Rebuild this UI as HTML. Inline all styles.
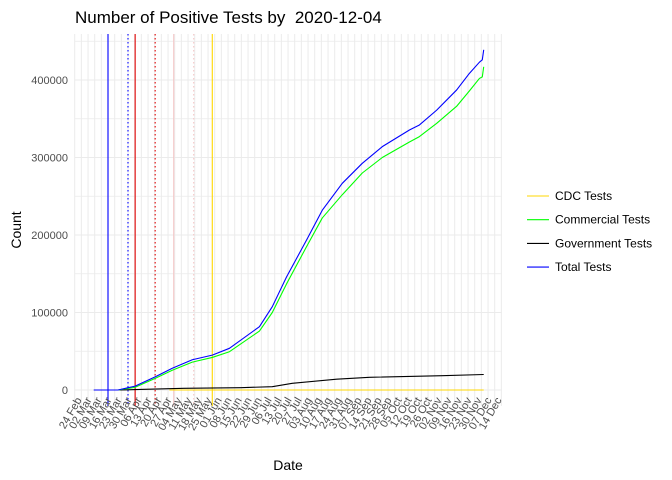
<!DOCTYPE html>
<html><head><meta charset="utf-8"><style>
html,body{margin:0;padding:0;background:#fff;}
svg{display:block;font-family:"Liberation Sans",Arial,sans-serif;}
</style></head><body>
<svg id="chart" width="672" height="480" viewBox="0 0 672 480">
<text x="75" y="23" font-size="17" fill="#000" style="white-space:pre">Number of Positive Tests by &#160;2020-12-04</text>
<g id="grid"></g>
<g id="vlines"></g>
<g id="series"></g>
<g id="yaxis"></g>
<g id="xaxis"></g>
<text x="288" y="470" font-size="14" text-anchor="middle" fill="#000">Date</text>
<text transform="translate(21,230) rotate(-90)" font-size="14" text-anchor="middle" fill="#000">Count</text>
<g id="legend"></g>
</svg>
<script>
const totalDates=["2020-03-06","2020-03-23","2020-04-04","2020-04-18","2020-04-30","2020-05-14","2020-05-28","2020-06-09","2020-06-30","2020-07-09","2020-07-19","2020-08-02","2020-08-13","2020-08-27","2020-09-10","2020-09-24","2020-10-13","2020-10-20","2020-11-01","2020-11-15","2020-11-24","2020-12-01","2020-12-03","2020-12-04"];
const totalValues=[0,0,5000,17000,28000,39000,45000,53800,81700,107500,146000,193500,232000,266700,292500,314000,335500,342000,361000,387000,408600,423000,426000,439000];
const commercialDates=["2020-03-17","2020-03-23","2020-04-04","2020-04-18","2020-04-30","2020-05-14","2020-05-28","2020-06-09","2020-06-30","2020-07-09","2020-07-19","2020-08-02","2020-08-13","2020-08-27","2020-09-10","2020-09-24","2020-10-13","2020-10-20","2020-11-01","2020-11-15","2020-11-24","2020-12-01","2020-12-03","2020-12-04"];
const commercialValues=[0,0,3500,15000,25500,36000,42000,49400,76000,100000,137000,185000,222000,252000,280000,300000,320000,327000,344000,366000,386000,402000,404000,417000];
const governmentDates=["2020-03-24","2020-04-04","2020-05-08","2020-06-17","2020-07-09","2020-07-23","2020-08-23","2020-09-15","2020-11-05","2020-12-04"];
const governmentValues=[0,500,2200,3000,4300,8600,14000,16400,18500,20000];
const cdcDates=["2020-04-28","2020-12-04"];
const cdcValues=[0,0];
const eventDates=["2020-03-16","2020-03-30","2020-04-04","2020-04-18","2020-05-01","2020-05-15","2020-05-28"];
const eventColors=["#0000ff","#0000ff","#dd0000","#dd0000","#f4c6c6","#f4c6c6","#ffd700"];
const eventDashed=[false,true,false,true,false,true,false];
const yTicks=[0,100000,200000,300000,400000];
const yTickLabels=["0","100000","200000","300000","400000"];
const xTickStart="2020-02-24";
const xTickCount=43;
const legendLabels=["CDC Tests","Commercial Tests","Government Tests","Total Tests"];
const legendColors=["#ffd700","#00ff00","#000000","#0000ff"];

const NS="http://www.w3.org/2000/svg";
const origin=Date.UTC(2020,1,24);
function dayOf(s){const p=s.split("-");return (Date.UTC(+p[0],+p[1]-1,+p[2])-origin)/86400000;}
function xScale(s){return 78+dayOf(s)*10/7;}
function xDay(d){return 78+d*10/7;}
function yScale(v){return 390-v*0.000775;}
function mk(tag,attrs,parent){const e=document.createElementNS(NS,tag);for(const k in attrs)e.setAttribute(k,attrs[k]);parent.appendChild(e);return e;}
const grid=document.getElementById("grid");
const PL=74.7,PR=501.7,PT=34,PB=406;
for(let v=0;v<=450000;v+=50000){
  const l=mk("line",{x1:PL,x2:PR,y1:yScale(v),y2:yScale(v),stroke:"#ebebeb","stroke-width":v%100000===0?1.1:0.8},grid);
  
  
}
for(let x=PL;x<=PR+0.5;x+=20/3){
  const l=mk("line",{x1:x,x2:x,y1:PT,y2:PB,stroke:"#ebebeb","stroke-width":1},grid);
  
  
}
const vg=document.getElementById("vlines");
eventDates.forEach((d,i)=>{
  const x=xScale(d);
  const a={x1:x,x2:x,y1:PT,y2:PB,stroke:eventColors[i],"stroke-width":1.1};
  if(eventDashed[i])a["stroke-dasharray"]="1.5,2.5";
  const l=mk("line",a,vg);
  
  
});
const sg=document.getElementById("series");
function drawStep(dates,vals,color,name){
  let d="";
  dates.forEach((s,i)=>{const x=xScale(s),y=yScale(vals[i]);d+=(i?"L":"M")+x.toFixed(2)+","+y.toFixed(2);});
  const p=mk("path",{d:d,fill:"none",stroke:color,"stroke-width":1.1,"stroke-linejoin":"round"},sg);
  
  
}
drawStep(cdcDates,cdcValues,"#ffd700","cdc-tests-line");
drawStep(governmentDates,governmentValues,"#000000","government-tests-line");
drawStep(commercialDates,commercialValues,"#00ff00","commercial-tests-line");
drawStep(totalDates,totalValues,"#0000ff","total-tests-line");
const ya=document.getElementById("yaxis");
yTicks.forEach((v,i)=>{
  const t=mk("text",{x:68,y:yScale(v)+4,"font-size":11,"text-anchor":"end",fill:"#4d4d4d"},ya);
  t.textContent=yTickLabels[i];
  
  
});
const xa=document.getElementById("xaxis");
const months=["Jan","Feb","Mar","Apr","May","Jun","Jul","Aug","Sep","Oct","Nov","Dec"];
const st=dayOf(xTickStart);
for(let i=0;i<xTickCount;i++){
  const dd=new Date(origin+(st+i*7)*86400000);
  const lab=String(dd.getUTCDate()).padStart(2,"0")+" "+months[dd.getUTCMonth()];
  const x=xDay(st+i*7)+4;
  const t=mk("text",{transform:"translate("+x.toFixed(1)+",400) rotate(-60)","font-size":11,"text-anchor":"end",fill:"#4d4d4d"},xa);
  t.textContent=lab;
  
  
}
const lg=document.getElementById("legend");
legendLabels.forEach((lab,i)=>{
  const y=196+i*23.7;
  const g=mk("g",{},lg);
  
  
  const l=mk("line",{x1:527,x2:549,y1:y,y2:y,stroke:legendColors[i],"stroke-width":1.1},g);
  
  
  const t=mk("text",{x:555,y:y+4,"font-size":12,fill:"#000"},g);
  t.textContent=lab;
  
  
});
</script>
</body></html>
